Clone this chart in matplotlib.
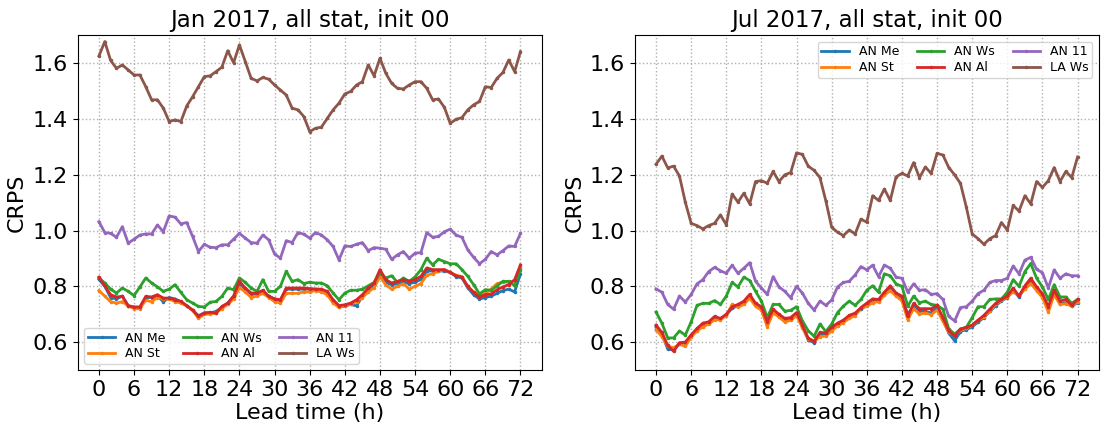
import numpy as np
import matplotlib
matplotlib.use("Agg")
import matplotlib.pyplot as plt

lead = list(range(0, 73))
names = ["AN Me", "AN St", "AN Ws", "AN Al", "AN 11", "LA Ws"]

# January 2017
jan_me = [0.825, 0.8, 0.76, 0.755, 0.765, 0.73, 0.725, 0.725, 0.76, 0.76, 0.765, 0.745, 0.76, 0.755, 0.745, 0.73, 0.715, 0.695, 0.705, 0.705, 0.71, 0.725, 0.74, 0.765, 0.81, 0.79, 0.77, 0.775, 0.78, 0.765, 0.755, 0.75, 0.79, 0.79, 0.79, 0.79, 0.79,
          0.79, 0.785, 0.78, 0.745, 0.725, 0.73, 0.735, 0.73, 0.765, 0.785, 0.805, 0.845, 0.815, 0.805, 0.81, 0.815, 0.81, 0.815, 0.825, 0.855, 0.855, 0.855, 0.855, 0.85, 0.835, 0.83, 0.795, 0.77, 0.755, 0.76, 0.765, 0.775, 0.785, 0.79, 0.78, 0.845]
jan_st = [0.785, 0.765, 0.745, 0.74, 0.745, 0.73, 0.72, 0.72, 0.75, 0.745, 0.76, 0.755, 0.755, 0.745, 0.74, 0.73, 0.715, 0.685, 0.7, 0.7, 0.705, 0.72, 0.735, 0.755, 0.795, 0.78, 0.76, 0.765, 0.775, 0.76, 0.745, 0.74, 0.775, 0.775, 0.775, 0.78, 0.78,
          0.785, 0.78, 0.77, 0.74, 0.725, 0.73, 0.735, 0.745, 0.76, 0.78, 0.795, 0.835, 0.805, 0.79, 0.8, 0.81, 0.79, 0.8, 0.81, 0.84, 0.845, 0.855, 0.86, 0.85, 0.84, 0.835, 0.8, 0.78, 0.77, 0.775, 0.79, 0.81, 0.815, 0.815, 0.82, 0.865]
jan_ws = [0.83, 0.812, 0.79, 0.776, 0.794, 0.782, 0.767, 0.798, 0.83, 0.812, 0.798, 0.782, 0.79, 0.806, 0.778, 0.752, 0.74, 0.728, 0.726, 0.743, 0.746, 0.764, 0.794, 0.788, 0.83, 0.814, 0.794, 0.782, 0.824, 0.782, 0.782, 0.8, 0.854, 0.818, 0.824, 0.81, 0.815,
          0.812, 0.812, 0.802, 0.776, 0.752, 0.776, 0.786, 0.786, 0.79, 0.802, 0.814, 0.848, 0.83, 0.838, 0.814, 0.83, 0.818, 0.834, 0.86, 0.901, 0.877, 0.897, 0.889, 0.881, 0.881, 0.86, 0.836, 0.806, 0.773, 0.788, 0.786, 0.802, 0.818, 0.818, 0.802, 0.86]
jan_al = [0.833, 0.802, 0.77, 0.762, 0.764, 0.731, 0.726, 0.726, 0.764, 0.762, 0.77, 0.758, 0.758, 0.752, 0.746, 0.731, 0.714, 0.692, 0.704, 0.707, 0.704, 0.728, 0.74, 0.764, 0.818, 0.794, 0.776, 0.776, 0.786, 0.764, 0.755, 0.752, 0.794, 0.794, 0.794, 0.794, 0.792,
          0.79, 0.79, 0.782, 0.752, 0.731, 0.734, 0.74, 0.752, 0.77, 0.794, 0.812, 0.86, 0.824, 0.812, 0.818, 0.824, 0.818, 0.824, 0.836, 0.866, 0.86, 0.86, 0.86, 0.85, 0.838, 0.833, 0.8, 0.778, 0.762, 0.77, 0.773, 0.788, 0.798, 0.806, 0.824, 0.877]
jan_11 = [1.032, 0.993, 0.99, 0.976, 1.014, 0.955, 0.969, 0.984, 0.988, 0.988, 1.02, 0.996, 1.053, 1.048, 1.024, 1.029, 0.979, 0.925, 0.951, 0.94, 0.939, 0.949, 0.949, 0.969, 0.99, 0.973, 0.957, 0.955, 0.984, 0.967, 0.916, 0.901, 0.964, 0.957, 0.993, 0.987, 0.973,
          0.993, 0.984, 0.967, 0.943, 0.895, 0.945, 0.943, 0.951, 0.957, 0.928, 0.939, 0.937, 0.933, 0.897, 0.913, 0.925, 0.901, 0.919, 0.921, 0.993, 0.976, 0.979, 0.996, 1.005, 0.984, 0.976, 0.931, 0.904, 0.881, 0.897, 0.925, 0.913, 0.928, 0.945, 0.943, 0.99]
jan_la = [1.626, 1.678, 1.61, 1.582, 1.594, 1.576, 1.558, 1.558, 1.516, 1.469, 1.469, 1.439, 1.391, 1.397, 1.391, 1.447, 1.48, 1.516, 1.552, 1.555, 1.57, 1.586, 1.645, 1.602, 1.666, 1.606, 1.546, 1.537, 1.549, 1.543, 1.522, 1.504, 1.486, 1.439, 1.433, 1.409, 1.355,
          1.367, 1.371, 1.402, 1.433, 1.457, 1.49, 1.499, 1.522, 1.534, 1.594, 1.555, 1.618, 1.564, 1.528, 1.51, 1.508, 1.522, 1.534, 1.534, 1.51, 1.469, 1.472, 1.442, 1.385, 1.399, 1.405, 1.433, 1.451, 1.463, 1.516, 1.513, 1.546, 1.567, 1.612, 1.57, 1.642]

# July 2017
jul_me = [0.655, 0.628, 0.575, 0.572, 0.595, 0.598, 0.622, 0.645, 0.662, 0.67, 0.688, 0.683, 0.697, 0.722, 0.73, 0.742, 0.765, 0.732, 0.72, 0.66, 0.712, 0.695, 0.678, 0.682, 0.70, 0.655, 0.608, 0.598, 0.628, 0.625, 0.648, 0.662, 0.675, 0.69, 0.70, 0.718, 0.732,
          0.748, 0.748, 0.772, 0.792, 0.77, 0.758, 0.70, 0.73, 0.712, 0.71, 0.705, 0.725, 0.68, 0.632, 0.605, 0.638, 0.645, 0.655, 0.672, 0.688, 0.71, 0.73, 0.748, 0.76, 0.785, 0.762, 0.795, 0.822, 0.79, 0.768, 0.72, 0.778, 0.738, 0.742, 0.728, 0.742]
jul_st = [0.645, 0.62, 0.585, 0.58, 0.592, 0.585, 0.618, 0.64, 0.655, 0.665, 0.68, 0.68, 0.695, 0.735, 0.725, 0.735, 0.758, 0.728, 0.715, 0.655, 0.705, 0.69, 0.672, 0.678, 0.695, 0.652, 0.612, 0.605, 0.62, 0.622, 0.64, 0.658, 0.67, 0.685, 0.695, 0.722, 0.728,
          0.742, 0.745, 0.768, 0.785, 0.765, 0.748, 0.68, 0.72, 0.70, 0.705, 0.698, 0.715, 0.675, 0.635, 0.625, 0.642, 0.65, 0.66, 0.678, 0.69, 0.712, 0.735, 0.75, 0.762, 0.78, 0.768, 0.79, 0.81, 0.785, 0.76, 0.708, 0.77, 0.735, 0.738, 0.73, 0.745]
jul_ws = [0.708, 0.668, 0.615, 0.615, 0.64, 0.625, 0.673, 0.732, 0.739, 0.739, 0.749, 0.735, 0.765, 0.814, 0.798, 0.833, 0.821, 0.782, 0.747, 0.688, 0.735, 0.735, 0.711, 0.714, 0.727, 0.676, 0.641, 0.621, 0.665, 0.638, 0.665, 0.706, 0.729, 0.747, 0.732, 0.753, 0.786,
          0.802, 0.779, 0.845, 0.838, 0.809, 0.8, 0.729, 0.765, 0.741, 0.747, 0.735, 0.732, 0.718, 0.647, 0.629, 0.647, 0.653, 0.688, 0.727, 0.727, 0.753, 0.755, 0.755, 0.779, 0.824, 0.8, 0.853, 0.882, 0.829, 0.798, 0.753, 0.806, 0.762, 0.762, 0.739, 0.753]
jul_al = [0.661, 0.635, 0.588, 0.567, 0.598, 0.6, 0.626, 0.649, 0.668, 0.673, 0.692, 0.685, 0.7, 0.727, 0.735, 0.747, 0.771, 0.739, 0.727, 0.673, 0.718, 0.7, 0.685, 0.688, 0.706, 0.661, 0.614, 0.602, 0.635, 0.633, 0.653, 0.668, 0.679, 0.696, 0.704, 0.724, 0.74,
          0.755, 0.753, 0.779, 0.802, 0.776, 0.765, 0.692, 0.739, 0.72, 0.72, 0.72, 0.732, 0.688, 0.641, 0.621, 0.647, 0.653, 0.661, 0.679, 0.696, 0.718, 0.739, 0.753, 0.765, 0.794, 0.765, 0.802, 0.829, 0.798, 0.774, 0.727, 0.786, 0.747, 0.753, 0.732, 0.753]
jul_11 = [0.791, 0.779, 0.735, 0.718, 0.765, 0.744, 0.771, 0.809, 0.824, 0.853, 0.868, 0.856, 0.847, 0.876, 0.847, 0.865, 0.885, 0.818, 0.794, 0.771, 0.835, 0.798, 0.782, 0.759, 0.8, 0.776, 0.739, 0.715, 0.747, 0.732, 0.751, 0.798, 0.814, 0.818, 0.841, 0.871, 0.859,
          0.876, 0.835, 0.876, 0.865, 0.833, 0.829, 0.779, 0.809, 0.786, 0.788, 0.771, 0.774, 0.753, 0.692, 0.676, 0.724, 0.727, 0.747, 0.774, 0.786, 0.814, 0.821, 0.821, 0.829, 0.873, 0.845, 0.894, 0.904, 0.861, 0.849, 0.794, 0.859, 0.829, 0.845, 0.838, 0.838]
jul_la = [1.238, 1.267, 1.225, 1.231, 1.196, 1.102, 1.026, 1.018, 1.006, 1.018, 1.026, 1.056, 1.021, 1.131, 1.102, 1.134, 1.096, 1.176, 1.179, 1.17, 1.212, 1.176, 1.2, 1.208, 1.279, 1.273, 1.231, 1.216, 1.19, 1.107, 1.012, 0.994, 0.982, 1.002, 0.988, 1.041, 1.03,
          1.125, 1.108, 1.149, 1.108, 1.193, 1.205, 1.196, 1.244, 1.19, 1.228, 1.205, 1.277, 1.271, 1.226, 1.2, 1.169, 1.084, 0.988, 0.971, 0.951, 0.971, 0.982, 1.029, 1.002, 1.09, 1.07, 1.125, 1.096, 1.176, 1.155, 1.179, 1.226, 1.176, 1.212, 1.19, 1.264]

panels = [
    ("Jan 2017, all stat, init 00", [jan_me, jan_st, jan_ws, jan_al, jan_11, jan_la], "lower left"),
    ("Jul 2017, all stat, init 00", [jul_me, jul_st, jul_ws, jul_al, jul_11, jul_la], "upper right"),
]

fig = plt.figure(figsize=(11.12, 4.29), dpi=100)
ax_pos = [[0.070, 0.1375, 0.417, 0.78], [0.571, 0.1375, 0.417, 0.78]]

for pos, (title, series, loc) in zip(ax_pos, panels):
    ax = fig.add_axes(pos)
    for i, (name, vals) in enumerate(zip(names, series)):
        ax.plot(lead, vals, color=f"C{i}", lw=2, marker=".", ms=3, label=name)
    ax.set_ylim(0.5, 1.7)
    ax.set_xticks(np.arange(0, 73, 6))
    ax.set_yticks([0.6, 0.8, 1.0, 1.2, 1.4, 1.6])
    ax.tick_params(labelsize=16)
    ax.grid(True, linestyle=":", color="#b0b0b0", lw=1)
    ax.set_title(title, fontsize=16.5)
    ax.set_xlabel("Lead time (h)", fontsize=16, labelpad=2)
    ax.set_ylabel("CRPS", fontsize=16)
    ax.legend(loc=loc, ncol=3, fontsize=9, handlelength=2.2, columnspacing=1.4,
              labelspacing=0.2, borderpad=0.3, handletextpad=0.8)

plt.savefig("out.png", dpi=100)
